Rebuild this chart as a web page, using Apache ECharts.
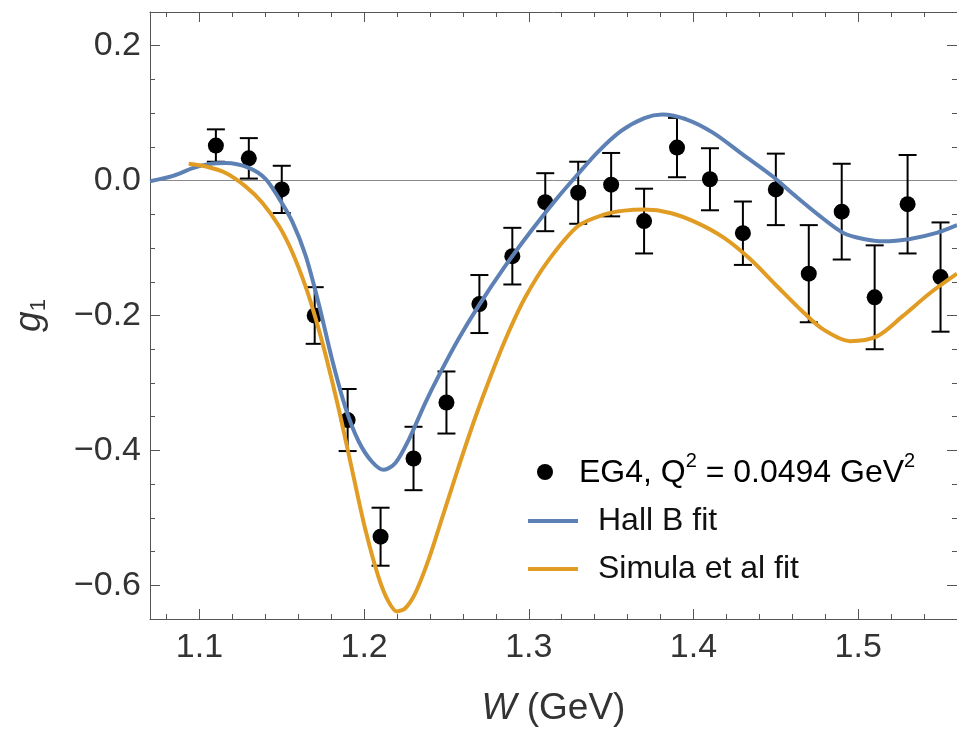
<!DOCTYPE html>
<html>
<head>
<meta charset="utf-8">
<script src="https://cdn.jsdelivr.net/npm/echarts@6/dist/echarts.min.js"></script>
<style>
  html, body { margin: 0; padding: 0; background: #fff; }
  #chart { width: 957px; height: 732px; }
</style>
</head>
<body>
<div id="chart"></div>
<script>
// EG4 measurement of g1 vs W, with two fits
const dataW = [1.11, 1.13, 1.15, 1.17, 1.19, 1.21, 1.23, 1.25, 1.27, 1.29, 1.31, 1.33,
               1.35, 1.37, 1.39, 1.41, 1.43, 1.45, 1.47, 1.49, 1.51, 1.53, 1.55];
const dataG1 = [0.052, 0.033, -0.013, -0.200, -0.355, -0.528, -0.412, -0.329, -0.183, -0.112, -0.032, -0.018,
                -0.006, -0.060, 0.049, 0.002, -0.078, -0.013, -0.138, -0.046, -0.173, -0.035, -0.143];
const dataErr = [0.024, 0.030, 0.035, 0.042, 0.046, 0.043, 0.047, 0.046, 0.043, 0.042, 0.043, 0.046,
                 0.047, 0.048, 0.044, 0.046, 0.047, 0.053, 0.072, 0.071, 0.077, 0.073, 0.081];

// Hall B fit
const hallW = [1.070, 1.084, 1.096, 1.106, 1.116, 1.130, 1.140, 1.1484, 1.1564, 1.1645,
               1.1726, 1.1806, 1.1887, 1.1968, 1.2048, 1.2119, 1.219, 1.2271, 1.2371, 1.2452,
               1.2573, 1.2694, 1.2855, 1.3016, 1.3178, 1.3299, 1.3420, 1.3561, 1.3702, 1.381,
               1.396, 1.412, 1.430, 1.448, 1.462, 1.477, 1.491, 1.5033, 1.5154, 1.5315,
               1.5476, 1.560];
const hallG = [-0.001, 0.007, 0.0185, 0.0245, 0.026, 0.019, 0.003, -0.0267, -0.0608, -0.1113,
               -0.1840, -0.2656, -0.3368, -0.3872, -0.4169, -0.4288, -0.4187, -0.3843, -0.3298, -0.2899,
               -0.2350, -0.1861, -0.1272, -0.0739, -0.0243, 0.0098, 0.0427, 0.0736, 0.0927, 0.098,
               0.0905, 0.0708, 0.0386, 0.0064, -0.023, -0.053, -0.0776, -0.0865, -0.090, -0.0865,
               -0.0776, -0.066];

// Simula et al fit
const simW = [1.0935, 1.104, 1.116, 1.128, 1.1383, 1.1484, 1.1564, 1.1645, 1.1706, 1.1766,
              1.1847, 1.1927, 1.2008, 1.2089, 1.2149, 1.2200, 1.2250, 1.2311, 1.2391, 1.2470,
              1.2573, 1.2674, 1.2773, 1.2875, 1.2976, 1.3117, 1.3299, 1.346, 1.358, 1.370,
              1.386, 1.4025, 1.4186, 1.4347, 1.4509, 1.467, 1.479, 1.495, 1.5113, 1.527,
              1.5435, 1.560];
const simG = [0.025, 0.021, 0.0114, -0.0085, -0.0331, -0.0678, -0.1063, -0.1573, -0.2047, -0.2582,
              -0.3398, -0.4288, -0.5178, -0.5890, -0.6246, -0.6387, -0.6340, -0.6117, -0.5623, -0.503,
              -0.425, -0.352, -0.287, -0.226, -0.174, -0.119, -0.0674, -0.050, -0.0445, -0.043,
              -0.048, -0.063, -0.085, -0.117, -0.157, -0.196, -0.221, -0.238, -0.231, -0.201,
              -0.167, -0.138];

// Axis ticks
const xMajor = [1.1, 1.2, 1.3, 1.4, 1.5];
const xMinor = [1.08, 1.12, 1.14, 1.16, 1.18, 1.22, 1.24, 1.26, 1.28, 1.32, 1.34, 1.36, 1.38,
                1.42, 1.44, 1.46, 1.48, 1.52, 1.54];
const yMajor = [-0.6, -0.4, -0.2, 0.0, 0.2];
const yMinor = [-0.55, -0.5, -0.45, -0.35, -0.3, -0.25, -0.15, -0.1, -0.05, 0.05, 0.1, 0.15];

const X_MIN = 1.07, X_MAX = 1.56, Y_MIN = -0.65, Y_MAX = 0.25;
const BLUE = '#5E81B5', ORANGE = '#E19C24';
const FRAME = '#555555';
const FONT = "'Liberation Sans', Arial, sans-serif";

const zip = (a, b) => a.map((v, i) => [v, b[i]]);
const errRows = dataW.map((w, i) => [w, dataG1[i] - dataErr[i], dataG1[i] + dataErr[i]]);

function xAxisDef(pos, ticks, len, withLabels, showLine) {
  const ax = {
    type: 'value', position: pos, min: X_MIN, max: X_MAX,
    axisLine: { show: showLine, onZero: false, lineStyle: { color: FRAME, width: 1 } },
    axisTick: { show: true, inside: true, length: len, customValues: ticks,
                lineStyle: { color: FRAME, width: 1 } },
    axisLabel: { show: withLabels },
    splitLine: { show: false }
  };
  if (withLabels) {
    ax.axisLabel = {
      show: true, customValues: ticks, margin: 12,
      fontFamily: FONT, fontSize: 34, color: '#333',
      formatter: v => v.toFixed(1)
    };
    ax.name = '{i|W}{r| (GeV)}';
    ax.nameLocation = 'middle';
    ax.nameGap = 71;
    ax.nameTextStyle = {
      rich: {
        i: { fontFamily: FONT, fontSize: 37, fontStyle: 'italic', color: '#333' },
        r: { fontFamily: FONT, fontSize: 37, color: '#333' }
      }
    };
  }
  return ax;
}

function yAxisDef(pos, ticks, len, withLabels, showLine) {
  const ax = {
    type: 'value', position: pos, min: Y_MIN, max: Y_MAX,
    axisLine: { show: showLine, onZero: false, lineStyle: { color: FRAME, width: 1 } },
    axisTick: { show: true, inside: true, length: len, customValues: ticks,
                lineStyle: { color: FRAME, width: 1 } },
    axisLabel: { show: withLabels },
    splitLine: { show: false }
  };
  if (withLabels) {
    ax.axisLabel = {
      show: true, customValues: ticks, margin: 9,
      fontFamily: FONT, fontSize: 34, color: '#333',
      formatter: v => (v < -1e-9 ? '\u2212' : '') + Math.abs(v).toFixed(1)
    };
    ax.name = '{g|g}{s|1}';
    ax.nameLocation = 'middle';
    ax.nameRotate = 90;
    ax.nameGap = 100;
    ax.nameTextStyle = {
      rich: {
        g: { fontFamily: FONT, fontSize: 37, fontStyle: 'italic', color: '#333', lineHeight: 40 },
        s: { fontFamily: FONT, fontSize: 22, color: '#333', verticalAlign: 'bottom', lineHeight: 40 }
      }
    };
  }
  return ax;
}

const chart = echarts.init(document.getElementById('chart'), null, { renderer: 'canvas' });

chart.setOption({
  animation: false,
  backgroundColor: '#ffffff',
  grid: { left: 150, right: -3, top: 12, bottom: 113, containLabel: false },
  xAxis: [
    xAxisDef('bottom', xMajor, 10, true, true),
    xAxisDef('bottom', xMinor, 5, false, false),
    xAxisDef('top', xMajor, 10, false, true),
    xAxisDef('top', xMinor, 5, false, false)
  ],
  yAxis: [
    yAxisDef('left', yMajor, 10, true, true),
    yAxisDef('left', yMinor, 5, false, false),
    yAxisDef('right', yMajor, 10, false, true),
    yAxisDef('right', yMinor, 5, false, false)
  ],
  series: [
    {
      // error bars with caps
      type: 'custom',
      z: 2,
      data: errRows,
      renderItem: function (params, api) {
        const x = api.value(0);
        const top = api.coord([x, api.value(2)]);
        const bot = api.coord([x, api.value(1)]);
        const hw = 9;
        const st = { stroke: '#000', lineWidth: 2 };
        return {
          type: 'group',
          children: [
            { type: 'line', shape: { x1: top[0], y1: top[1], x2: bot[0], y2: bot[1] }, style: st },
            { type: 'line', shape: { x1: top[0] - hw, y1: top[1], x2: top[0] + hw, y2: top[1] }, style: st },
            { type: 'line', shape: { x1: bot[0] - hw, y1: bot[1], x2: bot[0] + hw, y2: bot[1] }, style: st }
          ]
        };
      },
      silent: true
    },
    {
      name: 'EG4',
      type: 'scatter',
      z: 3,
      symbol: 'circle',
      symbolSize: 16,
      itemStyle: { color: '#000', opacity: 1 },
      data: zip(dataW, dataG1),
      silent: true
    },
    {
      name: 'Hall B fit',
      type: 'line',
      z: 4,
      smooth: 0.3,
      symbol: 'none',
      lineStyle: { color: BLUE, width: 4 },
      data: zip(hallW, hallG),
      markLine: {
        silent: true, symbol: 'none', z: 1,
        label: { show: false },
        lineStyle: { color: '#8a8a8a', width: 1, type: 'solid' },
        data: [{ yAxis: 0 }]
      }
    },
    {
      name: 'Simula et al fit',
      type: 'line',
      z: 5,
      smooth: 0.3,
      symbol: 'none',
      lineStyle: { color: ORANGE, width: 4 },
      data: zip(simW, simG)
    }
  ],
  graphic: [
    { type: 'circle', shape: { cx: 545, cy: 472, r: 8 }, style: { fill: '#000' }, z: 10 },
    { type: 'line', shape: { x1: 528, y1: 521, x2: 578, y2: 521 }, style: { stroke: BLUE, lineWidth: 4 }, z: 10 },
    { type: 'line', shape: { x1: 528, y1: 569, x2: 578, y2: 569 }, style: { stroke: ORANGE, lineWidth: 4 }, z: 10 },
    {
      type: 'text', x: 579, y: 473, z: 10,
      style: {
        text: '{a|EG4, Q}{s|2}{a| = 0.0494 GeV}{s|2}',
        verticalAlign: 'middle',
        rich: {
          a: { fontFamily: FONT, fontSize: 32, color: '#111', lineHeight: 44, verticalAlign: 'middle' },
          s: { fontFamily: FONT, fontSize: 20, color: '#111', lineHeight: 44, verticalAlign: 'top' }
        }
      }
    },
    {
      type: 'text', x: 598, y: 521, z: 10,
      style: { text: 'Hall B fit', fontFamily: FONT, fontSize: 32, fill: '#111', verticalAlign: 'middle' }
    },
    {
      type: 'text', x: 598, y: 569, z: 10,
      style: { text: 'Simula et al fit', fontFamily: FONT, fontSize: 32, fill: '#111', verticalAlign: 'middle' }
    }
  ]
});
</script>
</body>
</html>
